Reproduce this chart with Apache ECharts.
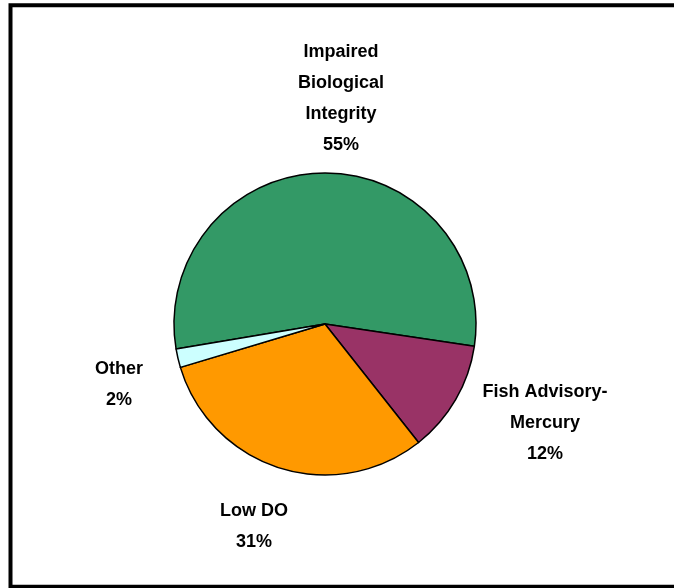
<!DOCTYPE html>
<html>
<head>
<meta charset="utf-8">
<script src="https://cdn.jsdelivr.net/npm/echarts@6/dist/echarts.min.js"></script>
<style>
html,body{margin:0;padding:0;background:#fff;}
#c{width:674px;height:588px;}
</style>
</head>
<body>
<div id="c"></div>
<script>
var categories = ['Impaired\nBiological\nIntegrity', 'Fish Advisory-\nMercury', 'Low DO', 'Other'];
var values = [55, 12, 31, 2];
var colors = ['#339966', '#993366', '#FF9900', '#CCFFFF'];
// label anchor centers (layout only)
var labelPos = [[341, 99], [545, 423], [254, 527], [119, 385]];

var chart = echarts.init(document.getElementById('c'), null, {renderer: 'canvas'});
chart.setOption({
  animation: false,
  backgroundColor: '#ffffff',
  graphic: [{
    type: 'rect',
    shape: {x: 10.5, y: 5.3, width: 700, height: 581.5},
    style: {fill: 'none', stroke: '#000', lineWidth: 4},
    silent: true
  }],
  series: [{
    type: 'pie',
    center: [325, 324],
    radius: [0, 151],
    startAngle: 189.5,
    clockwise: true,
    data: categories.map(function (c, i) {
      return {name: c, value: values[i], itemStyle: {color: colors[i]}};
    }),
    itemStyle: {borderColor: '#000', borderWidth: 1.5},
    label: {
      show: true,
      position: 'outside',
      formatter: function (p) { return p.name + '\n' + Math.round(p.percent) + '%'; },
      fontFamily: 'Liberation Sans, Arial, sans-serif',
      fontWeight: 'bold',
      fontSize: 18,
      lineHeight: 31,
      color: '#000',
      align: 'center'
    },
    labelLine: {show: false},
    labelLayout: function (params) {
      var p = labelPos[params.dataIndex];
      return {x: p[0], y: p[1], align: 'center', verticalAlign: 'middle'};
    },
    emphasis: {disabled: true}
  }]
});
</script>
</body>
</html>
